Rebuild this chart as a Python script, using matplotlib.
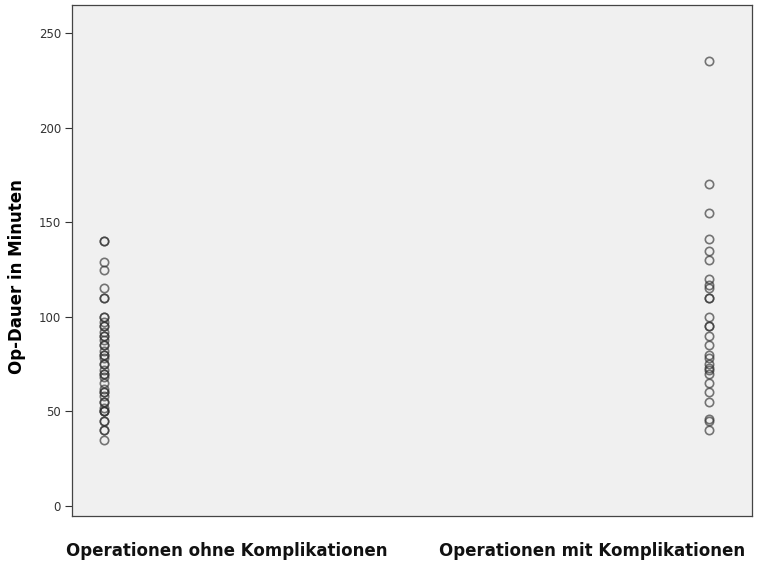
import matplotlib
matplotlib.use("Agg")

import matplotlib.pyplot as plt

categories = ["Operationen ohne Komplikationen", "Operationen mit Komplikationen"]

ohne_komplikationen = [
    35, 40, 40, 45, 45, 50, 50, 50, 52, 55, 55, 58, 60, 60, 62, 65, 68, 70,
    70, 72, 75, 75, 78, 80, 80, 82, 85, 85, 88, 90, 90, 92, 95, 95, 97, 100,
    100, 110, 110, 115, 125, 129, 140, 140,
]
mit_komplikationen = [
    40, 45, 46, 55, 60, 65, 70, 72, 73, 75, 78, 80, 85, 90, 95, 95, 100,
    110, 110, 115, 117, 120, 130, 135, 141, 155, 170, 235,
]

y_ticks = [0, 50, 100, 150, 200, 250]

fig = plt.figure(figsize=(7.57, 5.71), dpi=100)
ax = fig.add_axes([0.0951, 0.0963, 0.8983, 0.8949])
ax.set_facecolor("#f0f0f0")

for i, values in enumerate([ohne_komplikationen, mit_komplikationen]):
    ax.plot(
        [i] * len(values),
        values,
        linestyle="none",
        marker="o",
        markersize=6,
        markerfacecolor="none",
        markeredgecolor="#303030",
        markeredgewidth=1.2,
        alpha=0.65,
    )

ax.set_xlim(-0.053, 1.071)
ax.set_ylim(-5.3, 264.8)
ax.set_xticks([])
ax.set_yticks(y_ticks)
ax.tick_params(axis="y", length=5, width=0.8, color="#333333",
               labelsize=8.5, labelcolor="#333333", pad=3)

for spine in ax.spines.values():
    spine.set_color("#444444")
    spine.set_linewidth(0.9)

ax.set_ylabel("Op-Dauer in Minuten", fontsize=12, fontweight="bold")
ax.yaxis.set_label_coords(-0.068, 0.468)

label_pos = [0.227, 0.765]
for pos, name in zip(label_pos, categories):
    ax.text(pos, -0.068, name, transform=ax.transAxes, ha="center", va="center",
            fontsize=12, fontweight="bold", color="#111111")

fig.savefig("out.png", dpi=100)
